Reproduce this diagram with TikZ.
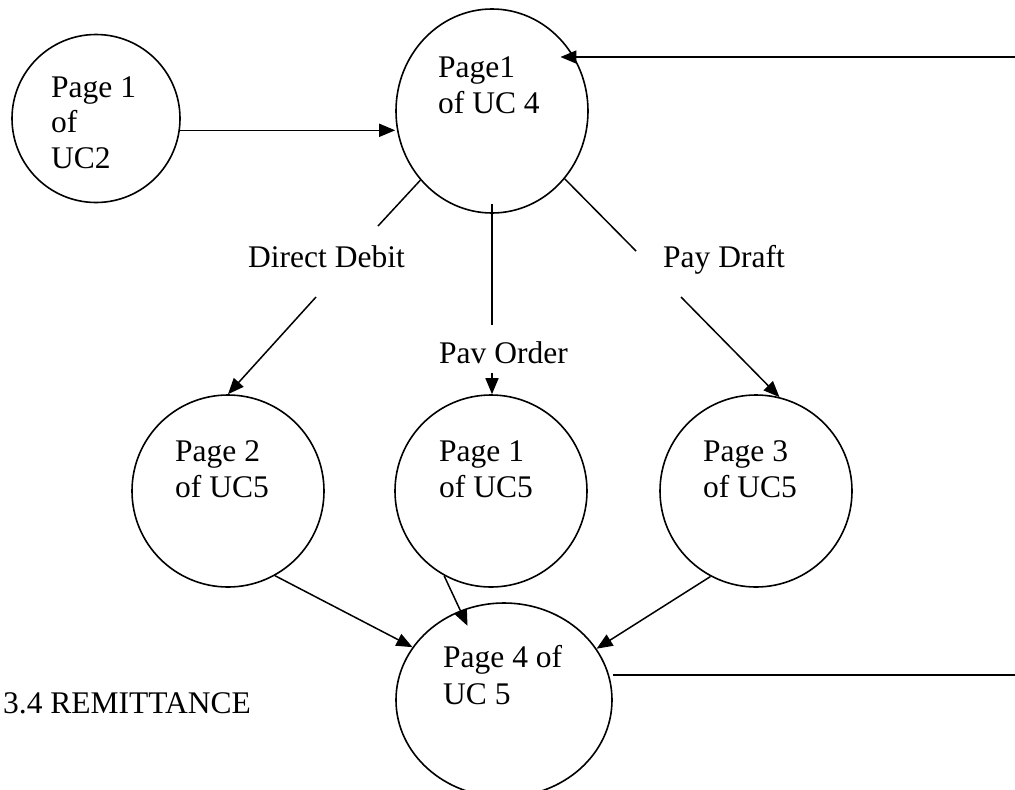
\documentclass[tikz,border=0pt]{standalone}
\usepackage{fontspec}
\setmainfont{Liberation Serif}
\usetikzlibrary{shapes.geometric,arrows.meta}
\begin{document}
\begin{tikzpicture}[x=1pt,y=-1pt,
  ell/.style={draw,ellipse,line width=1.6pt,inner sep=0pt},
  txt/.style={anchor=base west,inner sep=0pt,font=\fontsize{31.5}{36}\selectfont},
  conn/.style={line width=1.5pt},
  arr/.style={conn,-{Triangle[length=16pt,width=13pt]}}]
\useasboundingbox (0,0) rectangle (1015,790);
% shapes
\node[ell,minimum width=168pt,minimum height=168pt] (uc2) at (96,118.5) {};
\node[ell,minimum width=192pt,minimum height=204pt] (uc4) at (492,111) {};
\node[ell,minimum width=192pt,minimum height=192pt] (pg2) at (228,491) {};
\node[ell,minimum width=192pt,minimum height=192pt] (pg1) at (491,491) {};
\node[ell,minimum width=192pt,minimum height=192pt] (pg3) at (756,491) {};
\node[ell,minimum width=216pt,minimum height=194pt] (pg4) at (504,700) {};
% texts
\node[txt] (t21) at (51,97) {Page 1};
\node[txt] (t22) at (51,132) {of};
\node[txt] (t23) at (51,168) {UC2};
\node[txt] (t41) at (438,77) {Page1};
\node[txt] (t42) at (438,113) {of UC 4};
\node[txt] (ldd) at (248,267) {Direct Debit};
\node[txt] (lpo) at (439,363) {Pav Order};
\node[txt] (lpd) at (663,267) {Pay Draft};
\node[txt] (p21) at (175,461) {Page 2};
\node[txt] (p22) at (175,497) {of UC5};
\node[txt] (p11) at (439,461) {Page 1};
\node[txt] (p12) at (439,497) {of UC5};
\node[txt] (p31) at (703,461) {Page 3};
\node[txt] (p32) at (703,497) {of UC5};
\node[txt] (p41) at (443,667) {Page 4 of};
\node[txt] (p42) at (443,704) {UC 5};
\node[txt] (rem) at (3,713) {3.4 REMITTANCE};
% free ends
\coordinate (dda) at (378,226);
\coordinate (ddb) at (316,297);
\coordinate (poa) at (492,325);
\coordinate (pob) at (492,373);
\coordinate (pda) at (636,251);
\coordinate (pdb) at (681,297);
\coordinate (rtop) at (1015,57);
\coordinate (rbot) at (1015,675);
% connectors
\draw[arr] (uc2.-8.5) -- (uc2.-8.5 -| uc4.west);
\draw[arr] (rtop) -- (rtop -| uc4.north east);
\draw[conn] (uc4.-136.2) -- (dda);
\draw[arr] (ddb) -- (pg2.north);
\draw[conn] ([yshift=10pt]uc4.south) -- (poa);
\draw[arr] (pob) -- (pob |- pg1.north);
\draw[conn] (uc4.-43.4) -- (pda);
\draw[arr] (pdb) -- (pg3.76.7);
\draw[arr] (pg2.-61) -- (pg4.150.7);
\draw[arr,shorten >=-17pt] (pg1.-119) -- (pg4.116.4);
\draw[arr] (pg3.-118.6) -- (pg4.29.8);
\draw[conn] (rbot -| pg4.east) -- (rbot);
\end{tikzpicture}
\end{document}
